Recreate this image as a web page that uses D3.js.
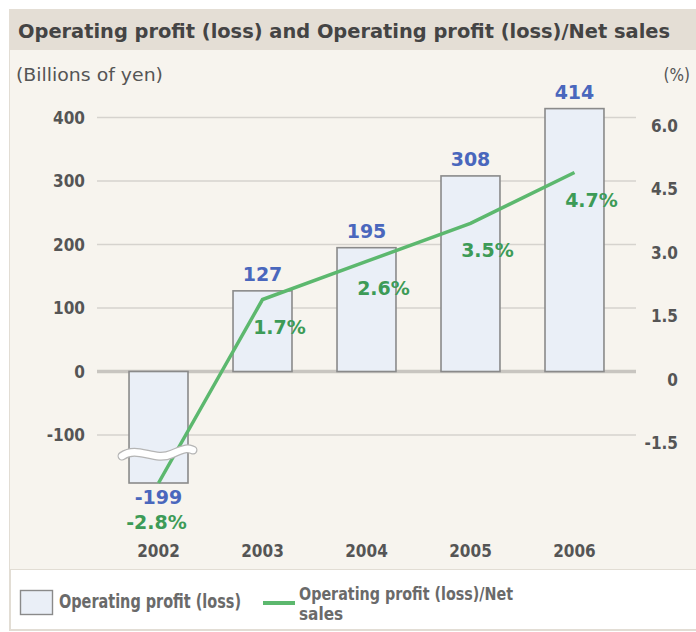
<!DOCTYPE html>
<html><head><meta charset="utf-8">
<script src="https://cdn.jsdelivr.net/npm/d3@7"></script>
<style>
html,body{margin:0;padding:0;background:#fff;}
svg{display:block;}
</style></head>
<body>
<svg id="c" width="696" height="632"></svg>
<script>
const years = ["2002","2003","2004","2005","2006"];
const profit = [-199, 127, 195, 308, 414];
const ratio = [-2.8, 1.7, 2.6, 3.5, 4.7];
const ratioLabels = ["-2.8%","1.7%","2.6%","3.5%","4.7%"];
const leftTicks = [-100, 0, 100, 200, 300, 400];
const rightTicks = [-1.5, 0, 1.5, 3.0, 4.5, 6.0];
const rightTickLabels = ["-1.5","0","1.5","3.0","4.5","6.0"];
const title = "Operating profit (loss) and Operating profit (loss)/Net sales";
const leftUnit = "(Billions of yen)";
const rightUnit = "(%)";
const legendBar = "Operating profit (loss)";
const legendLine = ["Operating profit (loss)/Net", "sales"];
const breakValue = -130;

const svg = d3.select("#c");
const FONT = "'DejaVu Sans Condensed','Liberation Sans',sans-serif";
const NUMFONT = "'DejaVu Sans','Lato',sans-serif";

// panel
svg.append("rect").attr("x",9.5).attr("y",9.5).attr("width",690).attr("height",621)
  .attr("fill","#f7f4ee").attr("stroke","#e2ddd4");
svg.append("rect").attr("x",9).attr("y",9).attr("width",687).attr("height",41).attr("fill","#e4ded5");
svg.append("text").attr("x",18).attr("y",38).text(title)
  .attr("font-family",FONT).attr("font-weight","bold").attr("font-size",20).attr("fill","#444")
  .attr("textLength",652).attr("lengthAdjust","spacingAndGlyphs");

// scales
const x = d3.scaleBand().domain(years).range([97,636]).paddingInner(0.433).paddingOuter(0.308);
const yLin = d3.scaleLinear().domain([0,400]).range([371.5,117.5]);
const yBar = d3.scaleLinear().domain([d3.min(profit), breakValue, 400])
  .range([483, yLin(breakValue), yLin(400)]);
const pLin = d3.scaleLinear().domain([0,6]).range([371.5,117.5]);
const yPct = d3.scaleLinear().domain([d3.min(ratio), breakValue*6/400, 6])
  .range([483, pLin(breakValue*6/400), pLin(6)]);

// grid
const g = svg.append("g");
g.selectAll("line.grid").data(leftTicks).join("line")
  .attr("x1",97).attr("x2",636).attr("y1",d=>yBar(d)).attr("y2",d=>yBar(d))
  .attr("stroke", d=> d===0 ? "#c8c5c0" : "#d6d3ce").attr("stroke-width", d=> d===0 ? 3.5 : 1.5);

// axis labels
g.selectAll("text.lt").data(leftTicks).join("text")
  .attr("x",85).attr("y",d=>yBar(d)+6).attr("text-anchor","end")
  .attr("font-family",FONT).attr("font-weight","bold").attr("font-size",17).attr("fill","#555")
  .text(d=>d);
g.selectAll("text.rt").data(rightTicks).join("text")
  .attr("x",678).attr("y",(d)=>yPct(d)+14).attr("text-anchor","end")
  .attr("font-family",FONT).attr("font-weight","bold").attr("font-size",17).attr("fill","#555")
  .text((d,i)=>rightTickLabels[i]);
svg.append("text").attr("x",16).attr("y",81).text(leftUnit)
  .attr("font-family",FONT).attr("font-size",17).attr("fill","#555")
  .attr("textLength",147).attr("lengthAdjust","spacingAndGlyphs");
svg.append("text").attr("x",690).attr("y",81).attr("text-anchor","end").text(rightUnit)
  .attr("font-family",FONT).attr("font-size",17).attr("fill","#555");

// bars
g.selectAll("rect.bar").data(profit).join("rect")
  .attr("x",(d,i)=>x(years[i])).attr("width",x.bandwidth())
  .attr("y",d=>Math.min(yBar(d),yBar(0))).attr("height",d=>Math.abs(yBar(d)-yBar(0)))
  .attr("fill","#eaeff7").attr("stroke","#8a8a8a").attr("stroke-width",1.6);

// line
const line = d3.line().x((d,i)=>x(years[i])+x.bandwidth()/2).y(d=>yPct(d));
g.append("path").datum(ratio).attr("d",line).attr("fill","none")
  .attr("stroke","#5cb86e").attr("stroke-width",3.5);

// break mark
const bx0 = x(years[0]) - 7, bx1 = x(years[0]) + x.bandwidth() + 5, by = yBar(breakValue) - 1;
const wave = () => {
  const w = bx1 - bx0;
  return `M${bx0},${by+3} C${bx0+w*0.22},${by-8} ${bx0+w*0.45},${by+9} ${bx0+w*0.7},${by+1} S${bx1-4},${by-4} ${bx1},${by-3}`;
};
g.append("path").attr("d",wave()).attr("fill","none").attr("stroke","#b5b5b5").attr("stroke-width",9).attr("stroke-linecap","round");
g.append("path").attr("d",wave()).attr("fill","none").attr("stroke","#fff").attr("stroke-width",6.5).attr("stroke-linecap","round");

// bar value labels
g.selectAll("text.bv").data(profit).join("text")
  .attr("x",(d,i)=>x(years[i])+x.bandwidth()/2)
  .attr("y",d=> d>=0 ? yBar(d)-10 : yBar(d)+21)
  .attr("text-anchor","middle")
  .attr("font-family",NUMFONT).attr("font-weight","bold").attr("font-size",19).attr("fill","#4a67bd")
  .text(d=>d);

// ratio labels
g.selectAll("text.rv").data(ratio).join("text")
  .attr("x",(d,i)=>x(years[i])+x.bandwidth()/2 + (d>=0 ? 17 : -2))
  .attr("y",d=> d>=0 ? yPct(d)+34 : yPct(d)+46)
  .attr("text-anchor","middle")
  .attr("font-family",NUMFONT).attr("font-weight","bold").attr("font-size",19).attr("fill","#3d9b57")
  .text((d,i)=>ratioLabels[i]);

// year labels
g.selectAll("text.yr").data(years).join("text")
  .attr("x",d=>x(d)+x.bandwidth()/2).attr("y",557).attr("text-anchor","middle")
  .attr("font-family",FONT).attr("font-weight","bold").attr("font-size",17).attr("fill","#555")
  .text(d=>d);

// legend
svg.append("rect").attr("x",10.5).attr("y",569.5).attr("width",690).attr("height",60)
  .attr("fill","#fff").attr("stroke","#e2ddd4");
svg.append("rect").attr("x",20.5).attr("y",590.5).attr("width",32).attr("height",24)
  .attr("fill","#eaeff7").attr("stroke","#8a8a8a").attr("stroke-width",1.4);
svg.append("text").attr("x",59).attr("y",608).text(legendBar)
  .attr("font-family",FONT).attr("font-weight","bold").attr("font-size",19).attr("fill","#6a6a6a")
  .attr("textLength",182).attr("lengthAdjust","spacingAndGlyphs");
svg.append("line").attr("x1",263).attr("x2",295).attr("y1",603).attr("y2",603)
  .attr("stroke","#5cb86e").attr("stroke-width",4);
svg.append("text").attr("x",299).attr("y",600).text(legendLine[0])
  .attr("font-family",FONT).attr("font-weight","bold").attr("font-size",17).attr("fill","#6a6a6a")
  .attr("textLength",214).attr("lengthAdjust","spacingAndGlyphs");
svg.append("text").attr("x",299).attr("y",620).text(legendLine[1])
  .attr("font-family",FONT).attr("font-weight","bold").attr("font-size",17).attr("fill","#6a6a6a");
</script>
</body></html>
